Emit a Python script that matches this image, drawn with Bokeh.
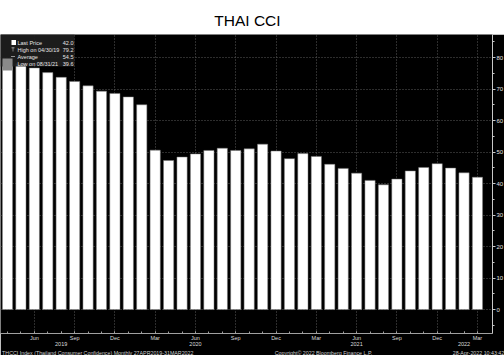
import numpy as np
from bokeh.plotting import figure
from bokeh.models import ColumnDataSource, FixedTicker, LinearAxis, Range1d, Label, BoxAnnotation
from bokeh.layouts import column
from bokeh.embed import file_html
from bokeh.resources import INLINE
from bokeh.core.properties import value

FONT = "Liberation Sans"

# ---------------- data ----------------
months = ["2019-04", "2019-05", "2019-06", "2019-07", "2019-08", "2019-09", "2019-10", "2019-11", "2019-12",
          "2020-01", "2020-02", "2020-03", "2020-04", "2020-05", "2020-06", "2020-07", "2020-08", "2020-09",
          "2020-10", "2020-11", "2020-12", "2021-01", "2021-02", "2021-03", "2021-04", "2021-05", "2021-06",
          "2021-07", "2021-08", "2021-09", "2021-10", "2021-11", "2021-12", "2022-01", "2022-02", "2022-03"]
cci = [79.2, 78.1, 76.7, 75.2, 73.7, 72.4, 71.0, 69.3, 68.6,
       67.5, 65.0, 50.6, 47.3, 48.4, 49.4, 50.5, 51.2, 50.5, 51.0, 52.5, 50.3,
       47.9, 49.5, 48.6, 46.1, 44.8, 43.3, 41.0, 39.6, 41.4, 44.0, 45.1, 46.3,
       44.9, 43.4, 42.0]
month_ticks = [2, 5, 8, 11, 14, 17, 20, 23, 26, 29, 32, 35]
month_labels = ["Jun", "Sep", "Dec", "Mar", "Jun", "Sep", "Dec", "Mar", "Jun", "Sep", "Dec", "Mar"]
year_ticks = [4, 14, 26, 34]
year_labels = ["2019", "2020", "2021", "2022"]
y_ticks = [0, 10, 20, 30, 40, 50, 60, 70, 80]
legend_labels = ["Last Price", "High on 04/30/19", "Average", "Low on 08/31/21"]
legend_values = ["42.0", "79.2", "54.5", "39.6"]
last_value = "42.0"
title_text = "THAI CCI"
footer_texts = ["THCCI Index (Thailand Consumer Confidence)  Monthly 27APR2019-31MAR2022",
                "Copyright\u00a9 2022 Bloomberg Finance L.P.",
                "28-Apr-2022 10:43:42"]

# ---------------- layout constants ----------------
W = 504
TITLE_H = 34
FRAME_W = 492
FRAME_H = 299
X0, X1 = -0.52, 36.12
Y0, Y1 = -7.6, 87.3
FOOTER_CENTERS = [98, 323, 478]   # page-pixel centres of the three footer texts


def dx(sx):
    return round(X0 + sx * (X1 - X0) / FRAME_W, 4)


def dy(sy):
    # sy measured in page pixels from the top of the page
    return Y1 - (sy - TITLE_H) * (Y1 - Y0) / FRAME_H


def bare(fig):
    fig.axis.visible = False
    fig.grid.visible = False
    return fig


# ---------------- title ----------------
t = figure(width=W, height=TITLE_H, x_range=Range1d(0, W), y_range=Range1d(TITLE_H, 0),
           output_backend="svg", toolbar_location=None, background_fill_color="white",
           border_fill_color="white", outline_line_color=None,
           min_border=0, min_border_left=0, min_border_right=0, min_border_top=0, min_border_bottom=0)
bare(t)
t.text(x=[254], y=[20], text=[title_text], text_align="center", text_baseline="middle",
       text_font=value(FONT), text_font_size="15.5px", text_color="black")

# ---------------- main ----------------
p = figure(frame_width=FRAME_W, frame_height=FRAME_H, x_range=Range1d(X0, X1), y_range=Range1d(Y0, Y1),
           y_axis_location="right", output_backend="svg", toolbar_location=None,
           background_fill_color="black", border_fill_color="black", outline_line_color=None,
           min_border_left=0, min_border_right=W - FRAME_W, min_border_top=0,
           min_border_bottom=0)

src = ColumnDataSource(dict(x=list(range(len(months))), top=cci, month=months))
p.vbar(x="x", top="top", bottom=0, width=0.76, source=src, fill_color="white",
       line_color="#777777", line_width=0.5)

p.ygrid.ticker = FixedTicker(ticks=y_ticks)
p.xgrid.ticker = FixedTicker(ticks=month_ticks)
for g in (p.xgrid, p.ygrid):
    g.grid_line_color = "#5a5a5a"
    g.grid_line_dash = "1 2"
    g.grid_line_width = 1

ya = p.yaxis[0]
ya.ticker = FixedTicker(ticks=y_ticks, minor_ticks=list(range(-5, 90, 5)))
ya.axis_line_color = "#c8c8c8"
ya.major_tick_line_color = "#c8c8c8"
ya.minor_tick_line_color = "#c8c8c8"
ya.major_tick_out = 3
ya.major_tick_in = 0
ya.minor_tick_out = 2
ya.minor_tick_in = 0
ya.major_label_standoff = 1
ya.major_label_text_font = FONT
ya.major_label_text_font_size = "6px"
ya.major_label_text_color = "#e0e0e0"

# month labels with the year on a second line
xlabels = {k: v for k, v in zip(month_ticks, month_labels)}
for k, v in zip(year_ticks, year_labels):
    xlabels[k] = xlabels.get(k, "") + "\n" + v
xa = p.xaxis[0]
xa.ticker = FixedTicker(ticks=sorted(xlabels), minor_ticks=list(range(len(months))))
xa.major_label_overrides = xlabels
xa.axis_line_color = "#a0a0a0"
xa.major_tick_line_color = "#a0a0a0"
xa.minor_tick_line_color = "#a0a0a0"
xa.major_tick_in = 2
xa.major_tick_out = 0
xa.minor_tick_in = 2
xa.minor_tick_out = 0
xa.major_label_standoff = 1
xa.major_label_text_font = FONT
xa.major_label_text_font_size = "5.5px"
xa.major_label_text_line_height = 1.0
xa.major_label_text_color = "#dcdcdc"

# footer line as a label-only axis under the date axis
foot_ticks = [dx(c) for c in FOOTER_CENTERS]
fa = LinearAxis(ticker=FixedTicker(ticks=foot_ticks, minor_ticks=[]),
                major_label_overrides={k: v for k, v in zip(foot_ticks, footer_texts)},
                axis_line_color=None, major_tick_line_color=None, minor_tick_line_color=None,
                major_tick_in=0, major_tick_out=0, major_label_standoff=0,
                major_label_text_font=FONT, major_label_text_font_size="5.3px",
                major_label_text_color="#cfcfcf")
p.add_layout(fa, "below")

# legend box (top-left)
p.add_layout(BoxAnnotation(left=dx(0), right=dx(74), top=dy(34), bottom=dy(66),
                           fill_color="#1e1e1e", fill_alpha=0.92, line_color=None))
p.add_layout(BoxAnnotation(left=dx(2), right=dx(12), top=dy(58), bottom=dy(70),
                           fill_color="#8a8a8a", fill_alpha=1.0, line_color=None))
row_y = [42, 49, 56, 63]
# icons
p.add_layout(BoxAnnotation(left=dx(11), right=dx(15.5), top=dy(39.5), bottom=dy(44.5),
                           fill_color="white", fill_alpha=1.0, line_color=None))
p.add_layout(BoxAnnotation(left=dx(11), right=dx(14), top=dy(47), bottom=dy(47.8),
                           fill_color="#bbbbbb", fill_alpha=1.0, line_color=None))
p.add_layout(BoxAnnotation(left=dx(12.2), right=dx(12.8), top=dy(47), bottom=dy(51),
                           fill_color="#bbbbbb", fill_alpha=1.0, line_color=None))
p.add_layout(BoxAnnotation(left=dx(10.5), right=dx(14.5), top=dy(55.7), bottom=dy(56.5),
                           fill_color="#bbbbbb", fill_alpha=1.0, line_color=None))
for lab, val, ry in zip(legend_labels, legend_values, row_y):
    p.add_layout(Label(x=dx(17), y=dy(ry), text=lab, text_font=FONT, text_font_size="5.5px",
                       text_color="#e6e6e6", text_baseline="middle", text_align="left"))
    p.add_layout(Label(x=dx(73), y=dy(ry), text=val, text_font=FONT, text_font_size="5.5px",
                       text_color="#e6e6e6", text_baseline="middle", text_align="right"))

# last value marker on the right axis
p.add_layout(Label(x=dx(494), y=cci[-1], text=last_value, text_font=FONT, text_font_size="5.5px",
                   text_color="black", text_baseline="middle", text_align="left",
                   background_fill_color="white", background_fill_alpha=1.0,
                   border_line_color="#999999"))

layout = column(t, p, spacing=0)
open("out.html", "w").write(file_html(layout, INLINE))
